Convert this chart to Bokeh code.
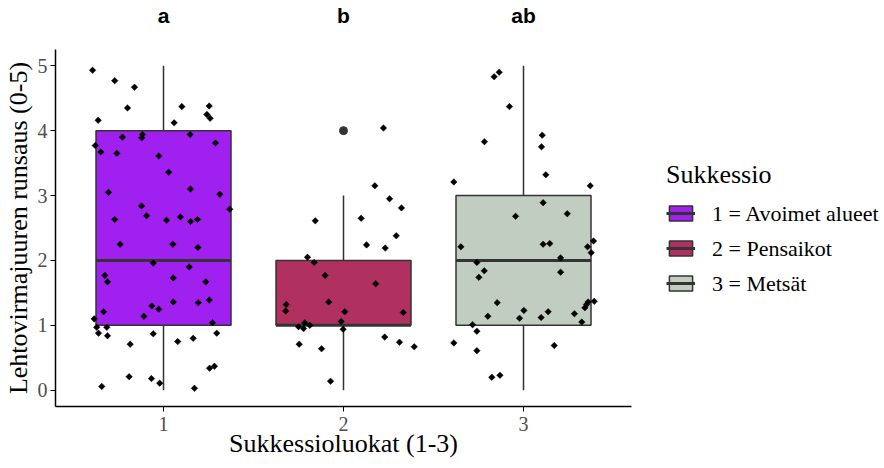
import numpy as np
from bokeh.plotting import figure
from bokeh.models import (Legend, LegendItem, FixedTicker, LinearAxis, Range1d,
                          ColumnDataSource)
from bokeh.embed import file_html
from bokeh.resources import INLINE

# ---------------- data ----------------
groups = [1, 2, 3]
group_labels = ["1 = Avoimet alueet", "2 = Pensaikot", "3 = Metsät"]
letters = ["a", "b", "ab"]
colors = ["#A020F0", "#B03060", "#C1CDC1"]

q1 = [1, 1, 1]
median = [2, 1, 2]
q3 = [4, 2, 3]
whisk_lo = [0, 0, 0]
whisk_hi = [5, 3, 5]
outlier_group = [2]
outlier_value = [4]

y_ticks = [0, 1, 2, 3, 4, 5]
x_ticks = [1, 2, 3]

# jittered observations (horizontal offset from group centre, jittered value)
g1_dx = [-0.394, -0.271, -0.161, -0.200, -0.363, 0.102, 0.254, 0.241, 0.259, 0.059,
         -0.228, -0.117, -0.121, 0.148, 0.289, -0.379, -0.348, -0.259, -0.026, 0.029,
         0.150, -0.306, 0.313, -0.122, 0.368, -0.271, -0.094, 0.017, 0.094, 0.150,
         0.189, -0.241, 0.052, 0.191, -0.057, 0.143, -0.326, -0.311, 0.054, 0.235,
         0.054, 0.193, 0.254, -0.333, -0.065, -0.026, -0.109, -0.385, -0.371, -0.315,
         0.272, -0.361, -0.311, -0.057, 0.296, 0.079, 0.165, -0.185, -0.191, -0.067,
         -0.021, 0.256, 0.283, -0.343, 0.172]
g1_y = [4.93, 4.77, 4.67, 4.35, 4.16, 4.37, 4.38, 4.25, 4.19, 4.12,
        3.90, 3.94, 3.89, 3.94, 3.81, 3.77, 3.67, 3.65, 3.61, 3.36,
        3.10, 3.05, 3.02, 2.84, 2.79, 2.63, 2.69, 2.62, 2.67, 2.60,
        2.63, 2.25, 2.25, 2.20, 1.96, 1.90, 1.77, 1.67, 1.73, 1.67,
        1.36, 1.35, 1.39, 1.21, 1.30, 1.25, 1.14, 1.10, 0.97, 0.97,
        1.04, 0.88, 0.84, 0.87, 0.88, 0.75, 0.80, 0.71, 0.21, 0.18,
        0.11, 0.34, 0.37, 0.06, 0.03]

g2_dx = [0.222, 0.174, 0.256, 0.322, -0.157, 0.098, 0.293, 0.128, 0.232, -0.200,
         -0.163, -0.102, 0.179, -0.318, -0.321, -0.082, 0.007, 0.332, -0.013, -0.215,
         -0.250, -0.222, -0.187, -0.002, 0.229, 0.311, 0.393, -0.246, -0.122, -0.072]
g2_y = [4.04, 3.15, 2.95, 2.81, 2.61, 2.65, 2.38, 2.24, 2.19, 2.05,
        1.97, 1.77, 1.64, 1.32, 1.22, 1.36, 1.21, 1.20, 1.06, 1.04,
        0.98, 0.95, 1.00, 0.94, 0.82, 0.74, 0.67, 0.71, 0.64, 0.14]

g3_dx = [-0.163, -0.135, -0.078, -0.217, 0.104, 0.100, -0.387, 0.124, 0.371, 0.109,
         -0.044, 0.243, -0.348, 0.109, 0.146, 0.389, 0.356, 0.376, 0.206, -0.259,
         -0.218, -0.248, 0.206, -0.146, 0.002, -0.198, -0.022, 0.098, 0.137, 0.283,
         0.324, 0.359, 0.393, 0.341, 0.350, -0.283, -0.259, -0.387, -0.259, 0.171,
         -0.176, -0.131]
g3_y = [4.83, 4.90, 4.37, 3.83, 3.93, 3.75, 3.21, 3.32, 3.15, 2.89,
        2.68, 2.72, 2.21, 2.25, 2.26, 2.30, 2.21, 2.12, 2.04, 1.97,
        1.84, 1.74, 1.82, 1.35, 1.23, 1.14, 1.11, 1.12, 1.21, 1.18,
        1.05, 1.36, 1.37, 1.27, 1.32, 1.01, 0.91, 0.73, 0.61, 0.69,
        0.20, 0.23]

obs_dx = [g1_dx, g2_dx, g3_dx]
obs_y = [g1_y, g2_y, g3_y]

# ---------------- styling ----------------
SERIF = "Liberation Serif"
SANS = "Liberation Sans"
EDGE = "#333333"
BOX_HALF = 0.375

p = figure(frame_width=576, frame_height=357,
           x_range=Range1d(0.4, 3.6), y_range=Range1d(-0.25, 5.25),
           output_backend="svg", toolbar_location=None,
           min_border_left=50, min_border_right=0,
           min_border_top=0, min_border_bottom=0)
p.grid.visible = False
p.outline_line_color = None
p.background_fill_color = "white"
p.border_fill_color = "white"

legend_items = []
for i, g in enumerate(groups):
    # whiskers
    p.segment(x0=[g, g], y0=[q3[i], q1[i]], x1=[g, g], y1=[whisk_hi[i], whisk_lo[i]],
              line_color=EDGE, line_width=1.5)
    box = p.quad(left=[g - BOX_HALF], right=[g + BOX_HALF], bottom=[q1[i]], top=[q3[i]],
                 fill_color=colors[i], line_color=EDGE, line_width=1.5)
    med = p.segment(x0=[g - BOX_HALF], y0=[median[i]], x1=[g + BOX_HALF], y1=[median[i]],
                    line_color=EDGE, line_width=3)
    key_pt = p.scatter(x=[], y=[], marker="diamond", size=7, fill_color="black",
                       line_color="black")
    legend_items.append(LegendItem(label=group_labels[i], renderers=[box, med, key_pt]))

# outliers
p.scatter(x=outlier_group, y=outlier_value, marker="circle", size=8,
          fill_color=EDGE, line_color=EDGE)

# jittered points
for i, g in enumerate(groups):
    src = ColumnDataSource(dict(x=[g + d for d in obs_dx[i]], y=obs_y[i]))
    p.scatter(x="x", y="y", source=src, marker="square", angle=np.pi / 4, size=4.6,
              fill_color="black", line_color="black", line_width=0.5)

# axes
for ax in (p.xaxis[0], p.yaxis[0]):
    ax.axis_line_color = "black"
    ax.axis_line_width = 1.5
    ax.major_tick_line_color = "black"
    ax.major_tick_line_width = 1
    ax.major_tick_in = 0
    ax.major_tick_out = 5
    ax.minor_tick_line_color = None
    ax.major_label_text_font = SERIF
    ax.major_label_text_font_size = "20px"
    ax.major_label_text_color = "#4D4D4D"
    ax.axis_label_text_font = SERIF
    ax.axis_label_text_font_size = "26px"
    ax.axis_label_text_font_style = "normal"
    ax.axis_label_text_color = "black"

p.xaxis.ticker = FixedTicker(ticks=x_ticks)
p.xaxis.axis_label = "Sukkessioluokat (1-3)"
p.xaxis.major_label_standoff = 5
p.xaxis.axis_label_standoff = -5

p.yaxis.ticker = FixedTicker(ticks=y_ticks)
p.yaxis.axis_label = "Lehtovirmajuuren runsaus (0-5)"
p.yaxis.major_label_standoff = 3
p.yaxis.axis_label_standoff = 2

top = LinearAxis(ticker=FixedTicker(ticks=x_ticks),
                 major_label_overrides={g: letters[i] for i, g in enumerate(groups)},
                 axis_line_color=None, major_tick_line_color=None,
                 minor_tick_line_color=None, major_tick_in=0, major_tick_out=0,
                 major_label_standoff=23,
                 major_label_text_font=SANS, major_label_text_font_style="bold",
                 major_label_text_font_size="21px", major_label_text_color="black")
p.add_layout(top, "above")

legend = Legend(items=legend_items, location="center_left",
                title="Sukkessio", title_text_font=SERIF, title_text_font_size="26px",
                title_text_font_style="normal", title_text_color="black",
                title_standoff=11,
                label_text_font=SERIF, label_text_font_size="22px",
                label_text_color="black", label_standoff=17,
                glyph_width=29, glyph_height=19, label_height=19, spacing=9,
                padding=0, margin=35, border_line_color=None,
                background_fill_alpha=0)
p.add_layout(legend, "right")

open("out.html", "w").write(file_html(p, INLINE))
